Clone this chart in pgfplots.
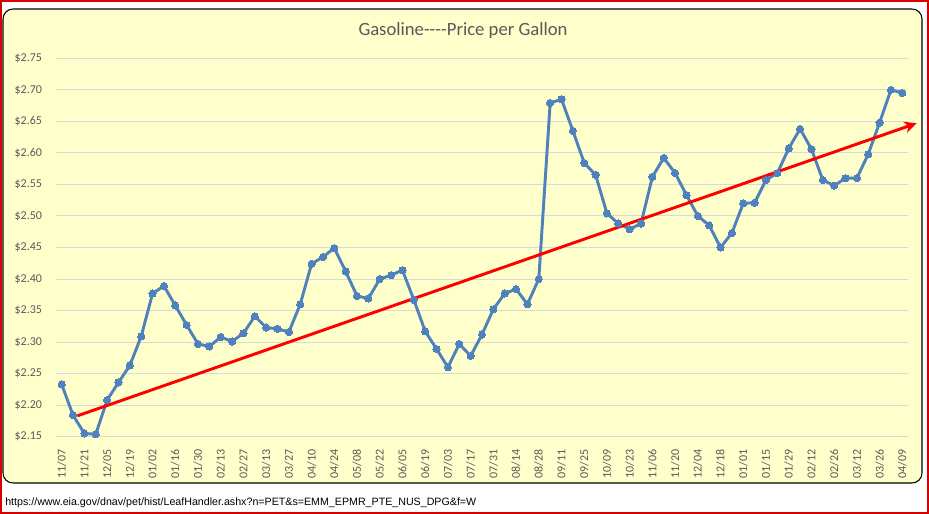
\documentclass[border=0pt]{standalone}
\usepackage{fontspec}
\setmainfont{Carlito}
\newfontfamily\urlfont{Liberation Sans}
\usepackage{pgfplots}
\pgfplotsset{compat=1.18}
\usetikzlibrary{arrows.meta}

\definecolor{chartbg}{HTML}{FFFFCC}
\definecolor{gasblue}{HTML}{4F81BD}
\definecolor{txtgray}{HTML}{595959}
\definecolor{gridgray}{HTML}{D9D9D9}

\begin{document}
\begin{tikzpicture}
% 1px = 0.75pt, origin at top left of the 929x514 image
\useasboundingbox (0,0) rectangle (696.75pt,-385.5pt);
\fill[white] (0,0) rectangle (696.75pt,-385.5pt);
\draw[red!85!black, line width=1.5pt] (0.75pt,-0.75pt) rectangle (696pt,-384.75pt);
\draw[black, line width=0.8pt, fill=chartbg, rounded corners=7.5pt]
    (2.25pt,-6.75pt) rectangle (691.5pt,-362.25pt);

\node[font=\fontsize{14}{16}\selectfont, text=txtgray] at (347.25pt,-23.25pt)
    {Gasoline{-}{-}{-}{-}Price per Gallon};
\node[font=\urlfont\fontsize{8}{9}\selectfont, anchor=west, inner sep=0pt]
    at (3.75pt,-377.25pt)
    {https://www.eia.gov/dnav/pet/hist/LeafHandler.ashx?n=PET\&s=EMM\_EPMR\_PTE\_NUS\_DPG\&f=W};

\begin{axis}[
    at={(42pt,-327.5pt)}, anchor=south west,
    scale only axis,
    width=639pt, height=283.8pt,
    xmin=-0.5, xmax=74.5,
    ymin=2.15, ymax=2.75,
    axis line style={draw=none},
    major tick length=0pt,
    ymajorgrids,
    grid style={gridgray, line width=0.75pt},
    ytick={2.15,2.20,2.25,2.30,2.35,2.40,2.45,2.50,2.55,2.60,2.65,2.70,2.75},
    yticklabels={\$2.15,\$2.20,\$2.25,\$2.30,\$2.35,\$2.40,\$2.45,\$2.50,\$2.55,\$2.60,\$2.65,\$2.70,\$2.75},
    xtick={0,2,...,74},
    xticklabels={11/07,11/21,12/05,12/19,01/02,01/16,01/30,02/13,02/27,03/13,03/27,04/10,04/24,05/08,05/22,06/05,06/19,07/03,07/17,07/31,08/14,08/28,09/11,09/25,10/09,10/23,11/06,11/20,12/04,12/18,01/01,01/15,01/29,02/12,02/26,03/12,03/26,04/09},
    ticklabel style={font=\fontsize{9}{10}\selectfont, text=txtgray},
    xticklabel style={rotate=90, anchor=east},
    xticklabel shift=6pt,
    yticklabel shift=7pt,
    clip=false,
]
\addplot[gasblue, line width=2.2pt, mark=*, mark size=2.7pt,
    mark options={solid, fill=gasblue, draw=gasblue, line width=0pt}]
    table[x=w, y=p]{
w p
0 2.233
1 2.184
2 2.155
3 2.154
4 2.208
5 2.236
6 2.263
7 2.309
8 2.377
9 2.389
10 2.358
11 2.327
12 2.297
13 2.293
14 2.308
15 2.301
16 2.314
17 2.341
18 2.323
19 2.321
20 2.316
21 2.360
22 2.424
23 2.435
24 2.449
25 2.412
26 2.373
27 2.369
28 2.400
29 2.406
30 2.414
31 2.367
32 2.317
33 2.289
34 2.260
35 2.297
36 2.278
37 2.312
38 2.352
39 2.377
40 2.384
41 2.360
42 2.400
43 2.679
44 2.685
45 2.635
46 2.584
47 2.565
48 2.504
49 2.488
50 2.479
51 2.488
52 2.562
53 2.592
54 2.568
55 2.533
56 2.500
57 2.485
58 2.450
59 2.473
60 2.520
61 2.521
62 2.557
63 2.568
64 2.607
65 2.638
66 2.606
67 2.557
68 2.548
69 2.560
70 2.560
71 2.598
72 2.648
73 2.700
74 2.695
};
% trend arrow
\addplot[red, line width=2.2pt, no marks,
    -{Stealth[length=9pt, width=8.5pt, inset=2.5pt]}]
    coordinates {(1.38,2.183) (75.26,2.647)};
\end{axis}
\end{tikzpicture}
\end{document}
